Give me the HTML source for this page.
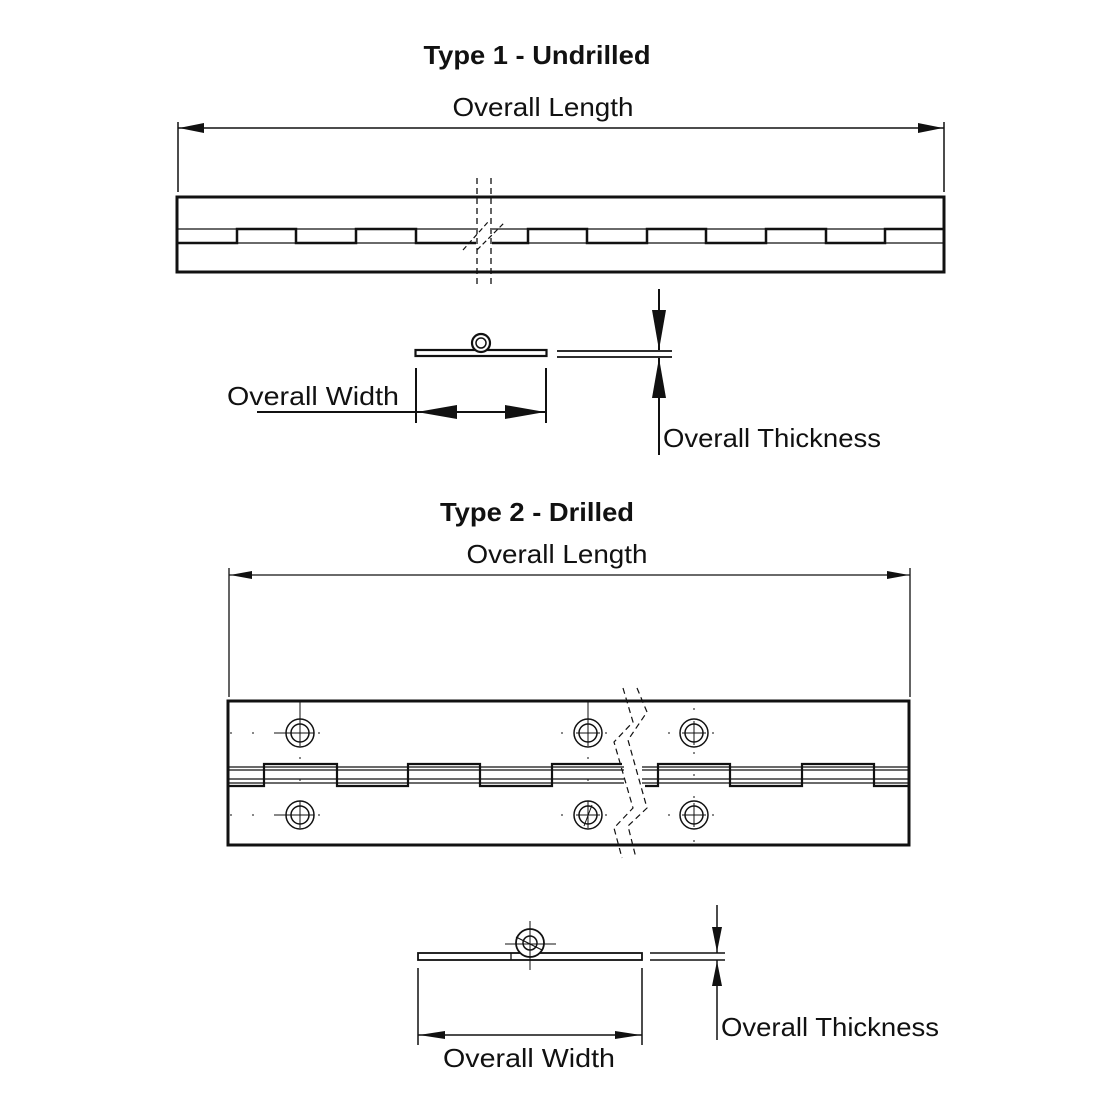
<!DOCTYPE html>
<html><head><meta charset="utf-8"><style>
html,body{margin:0;padding:0;background:#fff;}
svg{display:block;}
text{font-family:"Liberation Sans",sans-serif;fill:#111;}
</style></head><body>
<svg width="1100" height="1100" viewBox="0 0 1100 1100" xmlns="http://www.w3.org/2000/svg">
<rect width="1100" height="1100" fill="#fff"/>
<g stroke="#111" fill="none">
<!-- TYPE 1 -->
<line x1="178" y1="122" x2="178" y2="192" stroke-width="1.5"/>
<line x1="944" y1="122" x2="944" y2="192" stroke-width="1.5"/>
<line x1="178" y1="128" x2="944" y2="128" stroke-width="1.5"/>
<rect x="177" y="197" width="767" height="75" stroke-width="3"/>
<line x1="177" y1="229" x2="476" y2="229" stroke-width="1.2"/>
<line x1="177" y1="243" x2="476" y2="243" stroke-width="1.2"/>
<line x1="492" y1="229" x2="944" y2="229" stroke-width="1.2"/>
<line x1="492" y1="243" x2="944" y2="243" stroke-width="1.2"/>
<polyline points="177,243 237,243 237,229 296,229 296,243 356,243 356,229 416,229 416,243 476,243" stroke-width="2.5"/>
<polyline points="492,243 528,243 528,229 587,229 587,243 647,243 647,229 706,229 706,243 766,243 766,229 826,229 826,243 885,243 885,229 944,229" stroke-width="2.5"/>
<line x1="477" y1="178" x2="477" y2="288" stroke-width="1.3" stroke-dasharray="6,4"/>
<line x1="491" y1="178" x2="491" y2="288" stroke-width="1.3" stroke-dasharray="6,4"/>
<line x1="463" y1="250" x2="488" y2="222" stroke-width="1.2" stroke-dasharray="5,3"/>
<line x1="477" y1="250" x2="505" y2="222" stroke-width="1.2" stroke-dasharray="5,3"/>
<!-- section 1 -->
<rect x="415.5" y="350" width="131" height="6" stroke-width="2.2" fill="#fff"/>
<circle cx="481" cy="343" r="9" stroke-width="2.2" fill="#fff"/>
<circle cx="481" cy="343" r="5" stroke-width="1.5"/>
<line x1="416" y1="368" x2="416" y2="423" stroke-width="2"/>
<line x1="546" y1="368" x2="546" y2="423" stroke-width="2"/>
<line x1="257" y1="412" x2="546" y2="412" stroke-width="2"/>
<line x1="557" y1="351" x2="672" y2="351" stroke-width="1.8"/>
<line x1="557" y1="357" x2="672" y2="357" stroke-width="1.8"/>
<line x1="659" y1="289" x2="659" y2="350" stroke-width="2"/>
<line x1="659" y1="358" x2="659" y2="455" stroke-width="2"/>
<!-- TYPE 2 -->
<line x1="229" y1="568" x2="229" y2="697" stroke-width="1.3"/>
<line x1="910" y1="568" x2="910" y2="697" stroke-width="1.3"/>
<line x1="229" y1="575" x2="910" y2="575" stroke-width="1.3"/>
<rect x="228" y="701" width="681" height="144" stroke-width="3"/>
<g stroke-width="1.2">
<line x1="228" y1="767" x2="624" y2="767"/><line x1="642" y1="767" x2="909" y2="767"/>
<line x1="228" y1="770" x2="624" y2="770"/><line x1="642" y1="770" x2="909" y2="770"/>
<line x1="228" y1="779" x2="624" y2="779"/><line x1="642" y1="779" x2="909" y2="779"/>
<line x1="228" y1="783" x2="624" y2="783"/><line x1="642" y1="783" x2="909" y2="783"/>
</g>
<polyline points="228,786 264,786 264,764 337,764 337,786 408,786 408,764 480,764 480,786 552,786 552,764 622,764" stroke-width="2.2"/>
<polyline points="645,786 658,786 658,764 730,764 730,786 802,786 802,764 874,764 874,786 909,786" stroke-width="2.2"/>
<polyline points="623,688 633,722 614,742 633,808 614,828 622,858" stroke-width="1.2" stroke-dasharray="6,4"/>
<polyline points="637,688 647,712 628,740 647,808 628,826 636,858" stroke-width="1.2" stroke-dasharray="6,4"/>
<g stroke-width="1.5">
<circle cx="300" cy="733" r="14"/><circle cx="300" cy="733" r="9"/>
<circle cx="300" cy="815" r="14"/><circle cx="300" cy="815" r="9"/>
<circle cx="588" cy="733" r="14"/><circle cx="588" cy="733" r="9"/>
<circle cx="588" cy="815" r="14"/><circle cx="588" cy="815" r="9"/>
<circle cx="694" cy="733" r="14"/><circle cx="694" cy="733" r="9"/>
<circle cx="694" cy="815" r="14"/><circle cx="694" cy="815" r="9"/>
</g>
<g stroke-width="1">
<line x1="274" y1="733" x2="314" y2="733"/><line x1="300" y1="702" x2="300" y2="746"/>
<line x1="274" y1="815" x2="314" y2="815"/><line x1="300" y1="802" x2="300" y2="828"/>
<line x1="576" y1="733" x2="600" y2="733"/><line x1="588" y1="702" x2="588" y2="746"/>
<line x1="576" y1="815" x2="600" y2="815"/><line x1="588" y1="802" x2="588" y2="828"/>
<line x1="682" y1="733" x2="706" y2="733"/><line x1="694" y1="721" x2="694" y2="745"/>
<line x1="682" y1="815" x2="706" y2="815"/><line x1="694" y1="803" x2="694" y2="827"/>
<line x1="584" y1="826" x2="592" y2="805"/>
</g>
<g stroke-width="1" stroke-dasharray="2,20">
<line x1="230" y1="733" x2="330" y2="733"/><line x1="230" y1="815" x2="330" y2="815"/>
<line x1="561" y1="733" x2="620" y2="733"/><line x1="561" y1="815" x2="620" y2="815"/>
<line x1="668" y1="733" x2="725" y2="733"/><line x1="668" y1="815" x2="725" y2="815"/>
<line x1="300" y1="757" x2="300" y2="845"/><line x1="588" y1="757" x2="588" y2="845"/><line x1="694" y1="708" x2="694" y2="845"/>
</g>
<!-- section 2 -->
<rect x="418" y="953" width="224" height="7" stroke-width="1.8" fill="#fff"/>
<line x1="511" y1="953" x2="511" y2="960" stroke-width="1.3"/>
<circle cx="530" cy="943" r="14" stroke-width="1.8" fill="#fff"/>
<circle cx="530" cy="943" r="7" stroke-width="1.5"/>
<line x1="516" y1="937" x2="542" y2="950" stroke-width="1.2"/>
<line x1="505" y1="944" x2="556" y2="944" stroke-width="1"/>
<line x1="530" y1="921" x2="530" y2="970" stroke-width="1"/>
<line x1="418" y1="968" x2="418" y2="1045" stroke-width="1.5"/>
<line x1="642" y1="968" x2="642" y2="1045" stroke-width="1.5"/>
<line x1="418" y1="1035" x2="642" y2="1035" stroke-width="1.5"/>
<line x1="650" y1="953" x2="725" y2="953" stroke-width="1.5"/>
<line x1="650" y1="960" x2="725" y2="960" stroke-width="1.5"/>
<line x1="717" y1="905" x2="717" y2="953" stroke-width="1.5"/>
<line x1="717" y1="960" x2="717" y2="1040" stroke-width="1.5"/>
</g>
<!-- arrowheads -->
<g fill="#111" stroke="none">
<polygon points="179,128 204,123 204,133"/>
<polygon points="943,128 918,123 918,133"/>
<polygon points="417,412 457,405 457,419"/>
<polygon points="545,412 505,405 505,419"/>
<polygon points="659,350 652,310 666,310"/>
<polygon points="659,358 652,398 666,398"/>
<polygon points="230,575 252,571 252,579"/>
<polygon points="909,575 887,571 887,579"/>
<polygon points="419,1035 445,1031 445,1039"/>
<polygon points="641,1035 615,1031 615,1039"/>
<polygon points="717,952 712,927 722,927"/>
<polygon points="717,961 712,986 722,986"/>
</g>
<!-- text -->
<text x="537" y="64" font-size="26" font-weight="bold" text-anchor="middle" textLength="227" lengthAdjust="spacingAndGlyphs">Type 1 - Undrilled</text>
<text x="543" y="116" font-size="26" text-anchor="middle" textLength="181" lengthAdjust="spacingAndGlyphs">Overall Length</text>
<text x="227" y="405" font-size="26" textLength="172" lengthAdjust="spacingAndGlyphs">Overall Width</text>
<text x="663" y="447" font-size="26" textLength="218" lengthAdjust="spacingAndGlyphs">Overall Thickness</text>
<text x="537" y="521" font-size="26" font-weight="bold" text-anchor="middle" textLength="194" lengthAdjust="spacingAndGlyphs">Type 2 - Drilled</text>
<text x="557" y="563" font-size="26" text-anchor="middle" textLength="181" lengthAdjust="spacingAndGlyphs">Overall Length</text>
<text x="721" y="1036" font-size="26" textLength="218" lengthAdjust="spacingAndGlyphs">Overall Thickness</text>
<text x="529" y="1067" font-size="26" text-anchor="middle" textLength="172" lengthAdjust="spacingAndGlyphs">Overall Width</text>
</svg>
</body></html>
